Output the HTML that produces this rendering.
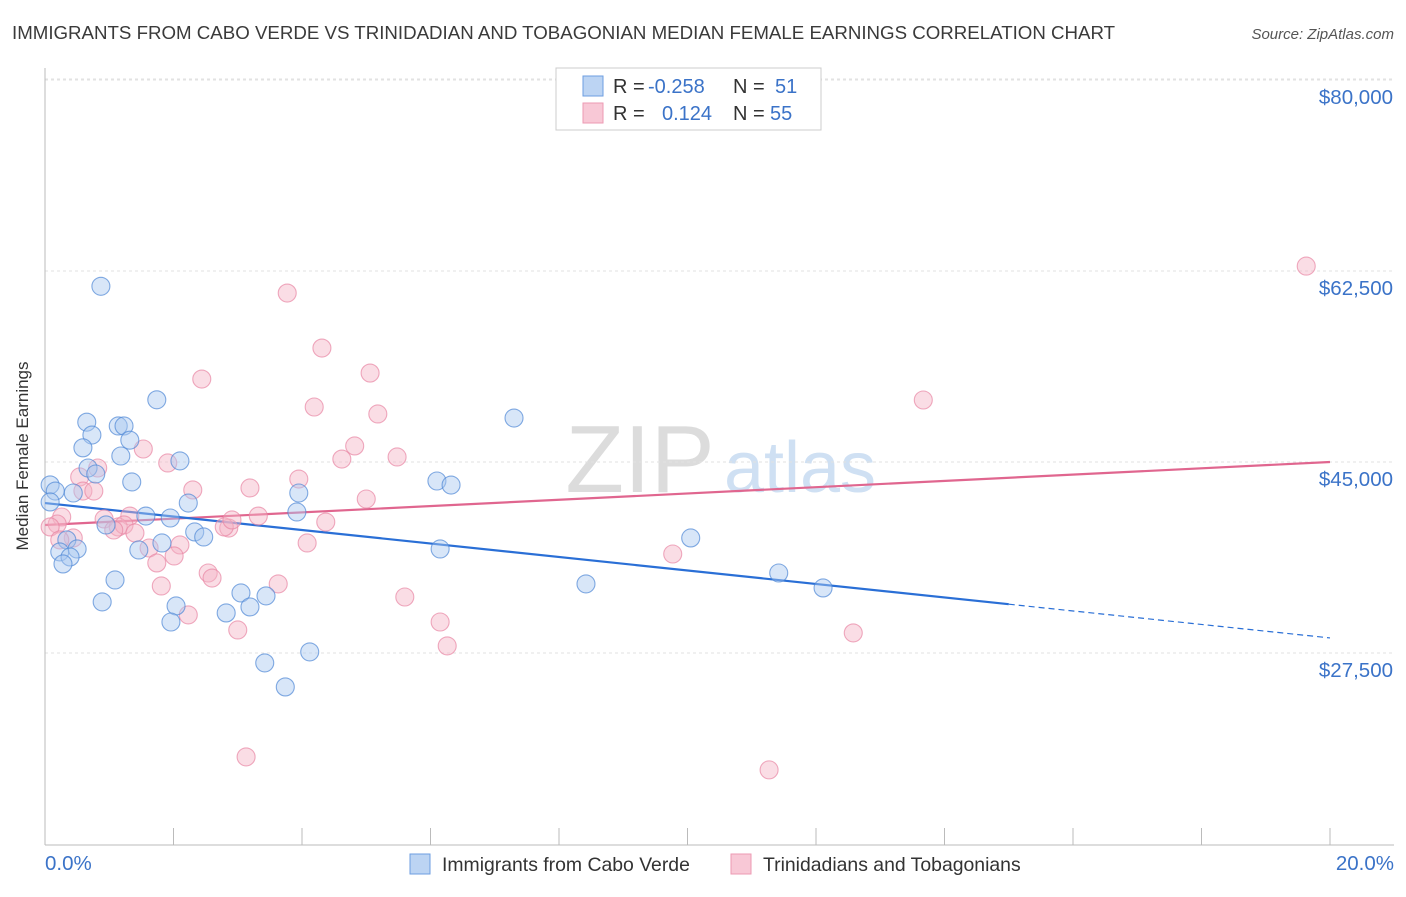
<!DOCTYPE html>
<html><head><meta charset="utf-8"><style>
body{margin:0;background:#fff;font-family:"Liberation Sans",sans-serif;}
svg text{font-family:"Liberation Sans",sans-serif;}
</style></head><body>
<svg id="chart" width="1406" height="892" viewBox="0 0 1406 892">
<text x="12" y="39" font-size="18.7" fill="#3a3a3a">IMMIGRANTS FROM CABO VERDE VS TRINIDADIAN AND TOBAGONIAN MEDIAN FEMALE EARNINGS CORRELATION CHART</text>
<text x="1394" y="39" font-size="15" fill="#555" text-anchor="end" font-style="italic">Source: ZipAtlas.com</text>
<text x="640" y="492" font-size="96" fill="#dcdcdc" font-family="Liberation Serif" text-anchor="middle">ZIP</text>
<text x="800" y="492" font-size="72" fill="#cfe0f3" text-anchor="middle">atlas</text>
<g id="grid"></g>
<line x1="45" y1="68" x2="45" y2="845" stroke="#bbb"/>
<line x1="45" y1="845" x2="1394" y2="845" stroke="#bbb"/>
<g id="xticks"></g>
<text x="28" y="456" font-size="17" fill="#333" text-anchor="middle" transform="rotate(-90 28 456)">Median Female Earnings</text>
<text x="45" y="870" font-size="20.5" fill="#3b73c8">0.0%</text>
<text x="1394" y="870" font-size="20.5" fill="#3b73c8" text-anchor="end">20.0%</text>
<g id="lines"></g>
<g id="points"></g>
<g>
<rect x="556" y="68" width="265" height="62" fill="#fff" stroke="#ccc"/>
<rect x="583" y="76" width="20" height="20" fill="#bcd4f3" stroke="#6d9ee0"/>
<rect x="583" y="103" width="20" height="20" fill="#f8c8d6" stroke="#ec9ab3"/>
<text x="613" y="93" font-size="20" fill="#333">R = <tspan fill="#3b73c8" x="648">-0.258</tspan><tspan x="733">N = </tspan><tspan fill="#3b73c8" x="775">51</tspan></text>
<text x="613" y="120" font-size="20" fill="#333">R = <tspan fill="#3b73c8" x="662">0.124</tspan><tspan x="733">N = </tspan><tspan fill="#3b73c8" x="770">55</tspan></text>
</g>
<g>
<rect x="410" y="854" width="20" height="20" fill="#bcd4f3" stroke="#6d9ee0"/>
<text x="442" y="871" font-size="19.4" fill="#333">Immigrants from Cabo Verde</text>
<rect x="731" y="854" width="20" height="20" fill="#f8c8d6" stroke="#ec9ab3"/>
<text x="763" y="871" font-size="19.4" fill="#333">Trinidadians and Tobagonians</text>
</g>
</svg>
<script>
const yTicks=[27500,45000,62500,80000];
const yTickLabels=["$27,500","$45,000","$62,500","$80,000"];
const xTickVals=[0,2,4,6,8,10,12,14,16,18,20];
const blueX=[0.87,1.74,0.65,0.73,1.14,1.23,1.32,0.59,1.18,2.10,0.67,0.79,1.35,0.08,0.16,0.44,2.23,0.08,1.57,1.95,0.95,2.33,2.47,0.34,0.50,1.82,1.46,0.23,0.39,0.28,1.09,0.89,2.04,1.96,3.05,3.44,3.19,2.82,3.42,4.12,3.74,7.30,6.10,6.32,3.95,3.92,6.15,10.05,8.42,11.42,12.11];
const blueY=[61100,50700,48650,47470,48300,48300,47000,46300,45550,45100,44450,43900,43170,42900,42340,42160,41240,41340,40050,39870,39230,38590,38130,37860,37030,37580,36940,36760,36300,35660,34190,32180,31810,30340,33000,32730,31720,31170,26590,27600,24390,49030,43260,42890,42160,40420,37030,38040,33830,34830,33460];
const pinkX=[3.77,4.31,2.44,5.06,4.19,5.18,13.67,19.63,1.53,4.82,4.62,5.48,1.91,0.82,0.54,0.59,0.76,2.30,3.19,3.95,5.00,0.26,0.19,0.08,0.44,0.92,1.32,1.14,1.23,1.07,1.40,2.86,2.79,2.91,3.32,4.37,1.62,2.10,2.01,1.74,4.08,2.54,2.60,1.81,3.63,2.23,3.00,5.60,6.15,6.26,9.77,12.58,3.13,11.27,0.23];
const pinkY=[60480,55440,52600,53150,50040,49400,50680,62950,46190,46470,45270,45460,44910,44450,43630,42340,42340,42440,42620,43440,41610,39960,39320,39050,38040,39780,40050,39050,39230,38770,38500,38950,39050,39690,40050,39500,37120,37400,36390,35750,37580,34830,34370,33640,33830,30990,29610,32630,30340,28150,36570,29340,17980,16790,37860];
const blueTrend=[41240,28880];
const blueSolidEnd=15.0;
const pinkTrend=[39230,45000];
const NS="http://www.w3.org/2000/svg";
function xs(v){return 45+v*64.25;}
function ys(v){return 462-(v-45000)*0.010914;}
function mk(tag,attrs,parent){const e=document.createElementNS(NS,tag);for(const k in attrs)e.setAttribute(k,attrs[k]);document.getElementById(parent).appendChild(e);return e;}
yTicks.forEach((t,i)=>{
  const l=mk('line',{x1:45,x2:1394,y1:ys(t),y2:ys(t),stroke:'#e2e2e2','stroke-dasharray':'3,3'},'grid');
  
  
  const tx=mk('text',{x:1393,y:ys(t)+24,'font-size':20.5,fill:'#3b73c8','text-anchor':'end'},'grid');
  tx.textContent=yTickLabels[i];
  
  
});
const topGrid=mk('line',{x1:45,x2:1394,y1:79,y2:79,stroke:'#e2e2e2','stroke-dasharray':'3,3'},'grid');


xTickVals.forEach(v=>{
  const l=mk('line',{x1:xs(v),x2:xs(v),y1:828,y2:845,stroke:'#bbb'},'xticks');
  
  
});
function trendY(tr,x){return tr[0]+(tr[1]-tr[0])*x/20;}
function drawPts(X,Y,fill,stroke,name){
  X.forEach((x,i)=>{
    const c=mk('circle',{cx:xs(x),cy:ys(Y[i]),r:9,fill:fill,'fill-opacity':0.45,stroke:stroke,'stroke-width':1.1,'stroke-opacity':0.7},'points');
    
    
  });
}
drawPts(pinkX,pinkY,'#f5b3c6','#e886a4','pink-point');
drawPts(blueX,blueY,'#a8c7ef','#4f88d6','blue-point');
const l1=mk('line',{x1:xs(0),y1:ys(trendY(pinkTrend,0)),x2:xs(20),y2:ys(trendY(pinkTrend,20)),stroke:'#e0668f','stroke-width':2.2},'lines');


const l2=mk('line',{x1:xs(0),y1:ys(trendY(blueTrend,0)),x2:xs(blueSolidEnd),y2:ys(trendY(blueTrend,blueSolidEnd)),stroke:'#2a6fd6','stroke-width':2.2},'lines');


const l3=mk('line',{x1:xs(blueSolidEnd),y1:ys(trendY(blueTrend,blueSolidEnd)),x2:xs(20),y2:ys(trendY(blueTrend,20)),stroke:'#2a6fd6','stroke-width':1.2,'stroke-dasharray':'6,4'},'lines');


</script>
</body></html>
